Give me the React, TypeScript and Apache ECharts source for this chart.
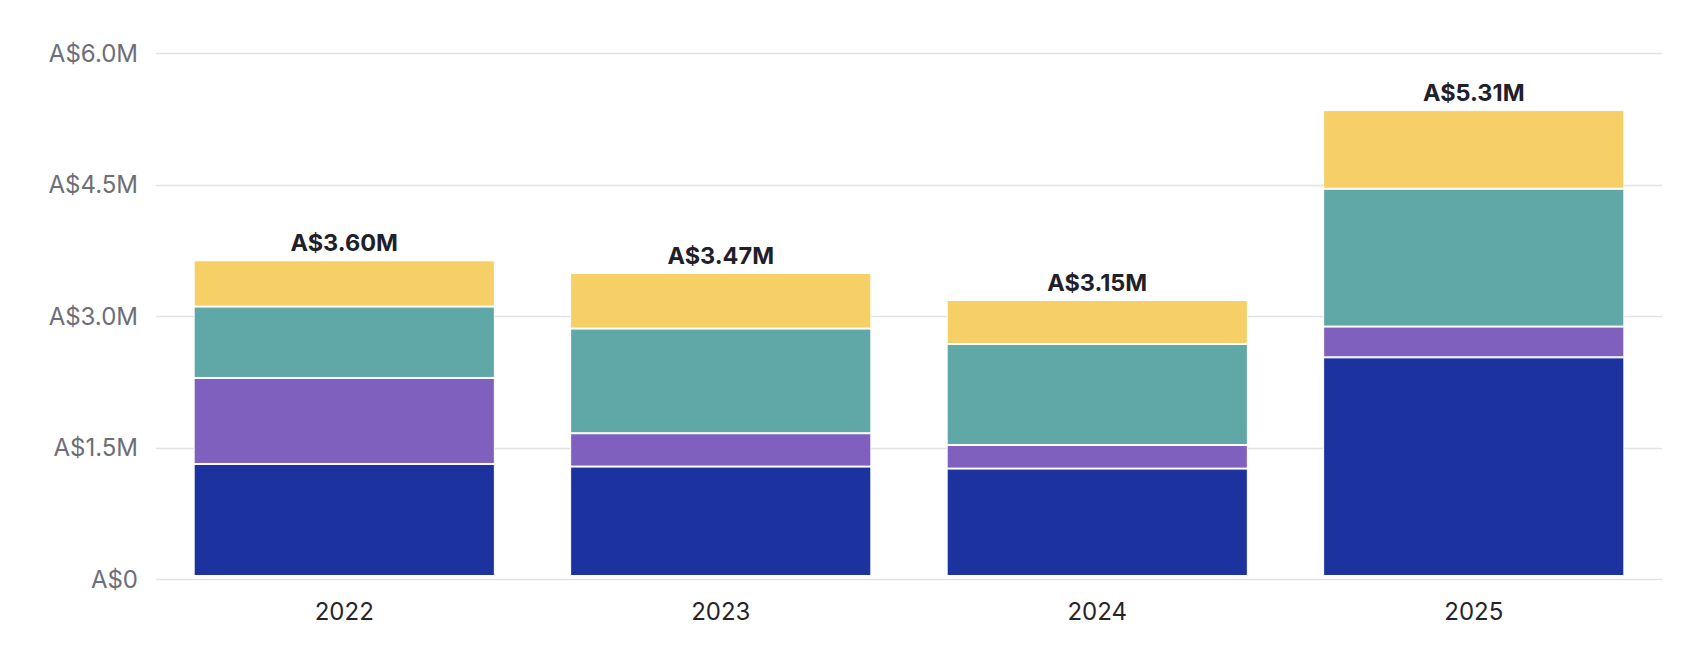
import React, { useEffect, useRef } from "react";
import * as echarts from "echarts";

const categories = ["2022", "2023", "2024", "2025"];
// Segment values in millions of AUD, bottom to top
const seriesBlue = [1.278, 1.248, 1.225, 2.494];
const seriesPurple = [0.981, 0.38, 0.269, 0.351];
const seriesTeal = [0.814, 1.194, 1.152, 1.572];
const seriesYellow = [0.528, 0.634, 0.502, 0.898];
const totals = [3.6, 3.47, 3.15, 5.31];
const yTicks = [0, 1.5, 3.0, 4.5, 6.0];

const COLORS = {
  blue: "#1B329F",
  purple: "#7F60BE",
  teal: "#60A8A8",
  yellow: "#F6D066",
};

const FONT = "Inter, 'Noto Sans', sans-serif";

export default function App() {
  const ref = useRef<HTMLDivElement>(null);

  useEffect(() => {
    if (!ref.current) return;
    const chart = echarts.init(ref.current, null, { renderer: "svg" });

    const makeSeries = (name: string, data: number[], color: string, isTop: boolean) => ({
      name,
      type: "bar",
      stack: "total",
      xAxisIndex: 1,
      yAxisIndex: 1,
      barWidth: "80%",
      data,
      itemStyle: { color, borderColor: "#ffffff", borderWidth: 1 },
      label: isTop
        ? {
            show: true,
            position: "top",
            distance: 6,
            fontFamily: FONT,
            fontSize: 23.5,
            fontWeight: 700,
            color: "#1f2029",
            formatter: (p: any) => `A$${totals[p.dataIndex].toFixed(2)}M`,
          }
        : { show: false },
    });

    chart.setOption({
      animation: false,
      backgroundColor: "#ffffff",
      grid: [
        { left: 156, right: 22, top: 53.3, bottom: 80.7, outerBoundsMode: "none" },
        { left: 156, right: 22, top: 50, bottom: 84, outerBoundsMode: "none" },
      ],
      xAxis: [
        {
          type: "category",
          gridIndex: 0,
          data: categories,
          axisLine: { show: false },
          axisTick: { show: false },
          axisLabel: {
            margin: 20,
            fontFamily: FONT,
            fontSize: 24,
            color: "#24252b",
          },
        },
        {
          type: "category",
          gridIndex: 1,
          data: categories,
          show: false,
        },
      ],
      yAxis: [
        {
          type: "value",
          gridIndex: 0,
          min: yTicks[0],
          max: yTicks[yTicks.length - 1],
          interval: 1.5,
          axisLine: { show: false },
          axisTick: { show: false },
          splitLine: { show: true, lineStyle: { color: "#e2e2e4", width: 1.3 } },
          axisLabel: {
            margin: 18,
            fontFamily: FONT,
            fontSize: 24,
            color: "#6d6e78",
            formatter: (v: number) => (v === 0 ? "A$0" : `A$${v.toFixed(1)}M`),
          },
        },
        {
          type: "value",
          gridIndex: 1,
          min: yTicks[0],
          max: yTicks[yTicks.length - 1],
          interval: 1.5,
          show: false,
          splitLine: { show: false },
        },
      ],
      series: [
        makeSeries("Blue", seriesBlue, COLORS.blue, false),
        makeSeries("Purple", seriesPurple, COLORS.purple, false),
        makeSeries("Teal", seriesTeal, COLORS.teal, false),
        makeSeries("Yellow", seriesYellow, COLORS.yellow, true),
      ],
    });

    return () => chart.dispose();
  }, []);

  return (
    <div
      ref={ref}
      style={{ position: "fixed", left: 0, top: 0, width: 1684, height: 660, background: "#fff" }}
    />
  );
}
